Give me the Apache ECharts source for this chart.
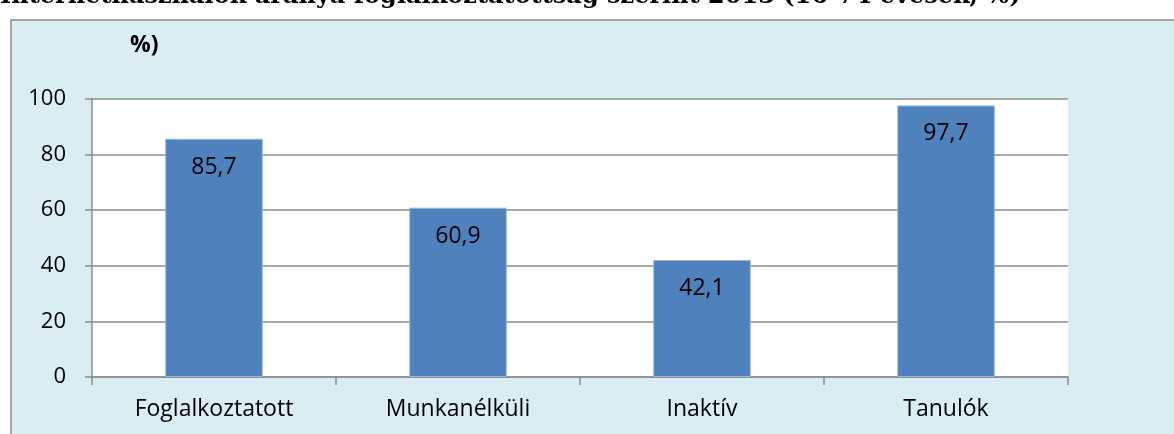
<!DOCTYPE html>
<html>
<head>
<meta charset="utf-8">
<script src="https://cdn.jsdelivr.net/npm/echarts@6/dist/echarts.min.js"></script>
<style>
  html, body { margin: 0; padding: 0; background: #ffffff; }
  #chart { width: 1174px; height: 434px; }
</style>
</head>
<body>
<div id="chart"></div>
<script>
// Internet users by employment status, 2013 (aged 16-74, %)
const categories = ['Foglalkoztatott', 'Munkanélküli', 'Inaktív', 'Tanulók'];
const values = [85.7, 60.9, 42.1, 97.7];
const yTicks = [0, 20, 40, 60, 80, 100];

const titleText = 'Internethasználók aránya foglalkoztatottság szerint 2013 (16-74 évesek, %)';
const unitText = '%)';

const FONT = '"Open Sans", "Noto Sans", sans-serif';

const chart = echarts.init(document.getElementById('chart'), null, { renderer: 'canvas' });

chart.setOption({
  animation: false,
  backgroundColor: '#ffffff',
  graphic: [
    {
      type: 'rect',
      z: -10,
      shape: { x: 11, y: 20, width: 1174, height: 420 },
      style: { fill: '#daedf3', stroke: '#8c8c8c', lineWidth: 1.5 },
      silent: true
    },
    {
      type: 'text',
      x: 0,
      y: 9,
      z: -5,
      style: {
        text: titleText,
        verticalAlign: 'bottom',
        font: 'bold 24px "DejaVu Serif"',
        fill: '#000000'
      },
      silent: true
    },
    {
      type: 'text',
      x: 130,
      y: 34,
      style: {
        text: unitText,
        font: 'bold 23px "Open Sans"',
        fill: '#000000'
      },
      silent: true
    }
  ],
  grid: {
    left: 92,
    right: 106,
    top: 99,
    bottom: 57,
    show: true,
    backgroundColor: '#ffffff',
    borderWidth: 0
  },
  xAxis: {
    type: 'category',
    data: categories,
    axisLine: { show: true, lineStyle: { color: '#8c8c8c', width: 1.5 } },
    axisTick: { show: true, alignWithLabel: false, length: 8, lineStyle: { color: '#8c8c8c', width: 1.5 } },
    axisLabel: { color: '#000000', fontFamily: FONT, fontSize: 23, margin: 21 },
    splitLine: { show: false }
  },
  yAxis: {
    type: 'value',
    min: yTicks[0],
    max: yTicks[yTicks.length - 1],
    interval: yTicks[1] - yTicks[0],
    axisLine: { show: true, lineStyle: { color: '#8c8c8c', width: 1.5 } },
    axisTick: { show: true, length: 7, lineStyle: { color: '#8c8c8c', width: 1.5 } },
    axisLabel: { color: '#000000', fontFamily: FONT, fontSize: 22, margin: 26 },
    splitLine: { show: true, lineStyle: { color: '#8c8c8c', width: 1.5 } }
  },
  series: [
    {
      type: 'bar',
      data: values,
      barWidth: '40%',
      itemStyle: { color: '#4f81bd', borderColor: '#9bb7dc', borderWidth: 1 },
      label: {
        show: true,
        position: 'insideTop',
        distance: 17,
        color: '#000000',
        fontFamily: FONT,
        fontSize: 23,
        formatter: p => String(p.value).replace('.', ',')
      }
    }
  ]
});
</script>
</body>
</html>
